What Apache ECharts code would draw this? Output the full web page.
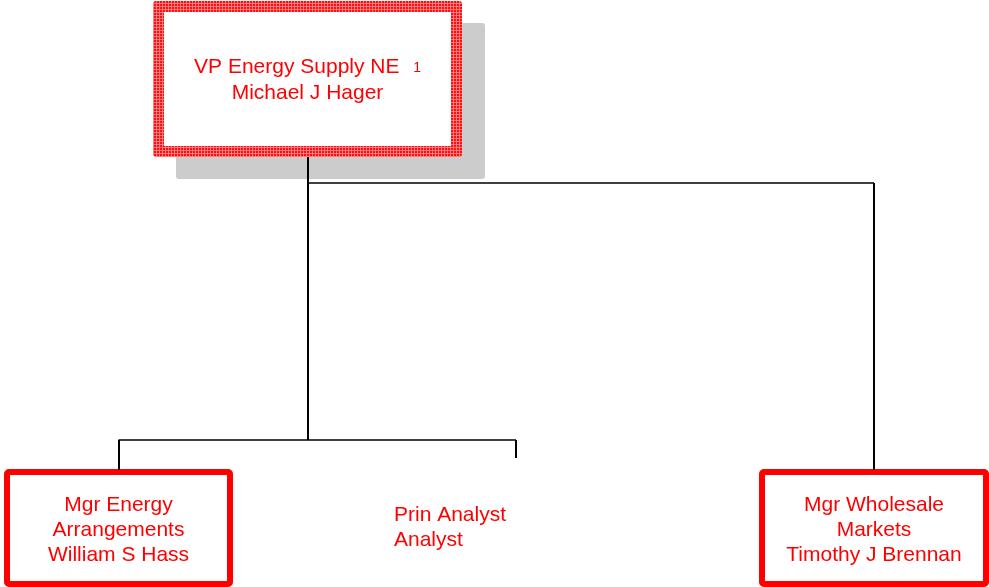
<!DOCTYPE html>
<html>
<head>
<meta charset="utf-8">
<script src="https://cdn.jsdelivr.net/npm/echarts@6/dist/echarts.min.js"></script>
<style>
html, body { margin: 0; padding: 0; background: #fff; }
#org_chart { width: 989px; height: 587px; }
</style>
</head>
<body>
<div id="org_chart"></div>
<script>
// org chart data
const nodeTitles = ['VP Energy Supply NE', 'Mgr Energy\nArrangements', 'Prin Analyst', 'Mgr Wholesale\nMarkets']
const nodeNames = ['Michael J Hager', 'William S Hass', 'Analyst', 'Timothy J Brennan']
const nodeParents = [-1, 0, 0, 0]
const nodeBadges = ['1', '', '', '']
const nodeVacant = [false, false, true, false]

// layout, in axis units (the axes span the whole sheet)
const boxX = [307.5, 118.5, 516, 874]
const boxTop = [1, 469, 458, 469]
const boxBottom = [157, 587, 458, 587]
const boxWidth = [309, 229, 0, 230]
const busY = [null, 440, 440, 183]
const textX = [307.5, 118.5, 394, 874]
const textY = [80, 530, 528, 530]

const FONT = 'Liberation Sans, Arial, sans-serif'
const RED = '#ff0000'

// red cross-hatch used on the top box border
const hatch = (() => {
    const c = document.createElement('canvas')
    c.width = 3
    c.height = 3
    const ctx = c.getContext('2d')
    ctx.fillStyle = '#ff1010'
    ctx.fillRect(0, 0, 3, 3)
    ctx.fillStyle = 'rgba(255,150,150,0.75)'
    ctx.fillRect(0, 0, 3, 1)
    ctx.fillRect(0, 0, 1, 3)
    return { image: c, repeat: 'repeat' }
})()

// connectors: one bus per busY value
const links = []
const buses = {}
nodeParents.forEach((p, i) => {
    if (p < 0) return
    if (!buses[busY[i]]) buses[busY[i]] = { parent: p, kids: [] }
    buses[busY[i]].kids.push(i)
})
let deepest = {}
Object.keys(buses).forEach(y => {
    const b = buses[y]
    const yy = Number(y)
    const xs = b.kids.map(k => boxX[k]).concat([boxX[b.parent]])
    links.push({ coords: [[Math.min(...xs), yy], [Math.max(...xs), yy]], lineStyle: { width: 1.5 } })
    b.kids.forEach(k => {
        links.push({ coords: [[boxX[k], yy], [boxX[k], boxTop[k] + (nodeVacant[k] ? 0 : 1)]], lineStyle: { width: 2 } })
    })
    deepest[b.parent] = Math.max(deepest[b.parent] || 0, yy)
})
Object.keys(deepest).forEach(p => {
    links.push({ coords: [[boxX[p], boxBottom[p]], [boxX[p], deepest[p]]], lineStyle: { width: 2 } })
})

const renderNode = (params, api) => {
    const i = params.dataIndex
    const tl = api.coord([boxX[i] - boxWidth[i] / 2, boxTop[i]])
    const br = api.coord([boxX[i] + boxWidth[i] / 2, boxBottom[i]])
    const w = br[0] - tl[0]
    const h = br[1] - tl[1]
    const tp = api.coord([textX[i], textY[i]])
    const children = []
    if (nodeParents[i] < 0) {
        children.push({ type: 'rect', shape: { x: tl[0] + 23, y: tl[1] + 22, width: w, height: h, r: 3 }, style: { fill: '#cccccc' } })
        children.push({ type: 'rect', shape: { x: tl[0], y: tl[1], width: w, height: h, r: 3 }, style: { fill: hatch } })
        children.push({ type: 'rect', shape: { x: tl[0] + 11, y: tl[1] + 11, width: w - 22, height: h - 22 }, style: { fill: '#fff' } })
        children.push({
            type: 'text', x: tp[0], y: tp[1],
            style: {
                text: '{t|' + nodeTitles[i] + '  }{s|' + nodeBadges[i] + '}\n{t|' + nodeNames[i] + '}',
                align: 'center', verticalAlign: 'middle',
                rich: {
                    t: { fontSize: 21, fontFamily: FONT, fill: RED, lineHeight: 26 },
                    s: { fontSize: 14, fontFamily: FONT, fill: RED, lineHeight: 26, verticalAlign: 'bottom', padding: [0, 0, 5, 2] }
                }
            }
        })
    } else {
        if (!nodeVacant[i]) {
            children.push({ type: 'rect', shape: { x: tl[0] + 3, y: tl[1] + 3, width: w - 6, height: h - 6, r: 2 }, style: { fill: '#fff', stroke: RED, lineWidth: 6 } })
        }
        children.push({
            type: 'text', x: tp[0], y: tp[1],
            style: {
                text: nodeTitles[i] + '\n' + nodeNames[i],
                align: nodeVacant[i] ? 'left' : 'center', verticalAlign: 'middle',
                fontSize: 21, fontFamily: FONT, fill: RED, lineHeight: 25
            }
        })
    }
    return { type: 'group', children }
}

const chart = echarts.init(document.getElementById('org_chart'))
chart.setOption({
    animation: false,
    backgroundColor: '#fff',
    grid: { left: 0, right: 0, top: 0, bottom: 0 },
    xAxis: { type: 'value', min: 0, max: 989, show: false },
    yAxis: { type: 'value', min: 0, max: 587, inverse: true, show: false },
    series: [
        {
            type: 'custom',
            renderItem: renderNode,
            data: nodeTitles.map((t, i) => [boxX[i], boxTop[i]]),
            silent: true,
            clip: false,
            z: 2
        },
        {
            type: 'lines',
            coordinateSystem: 'cartesian2d',
            polyline: false,
            silent: true,
            lineStyle: { color: '#000', opacity: 1 },
            data: links,
            z: 3
        }
    ]
})
</script>
</body>
</html>
